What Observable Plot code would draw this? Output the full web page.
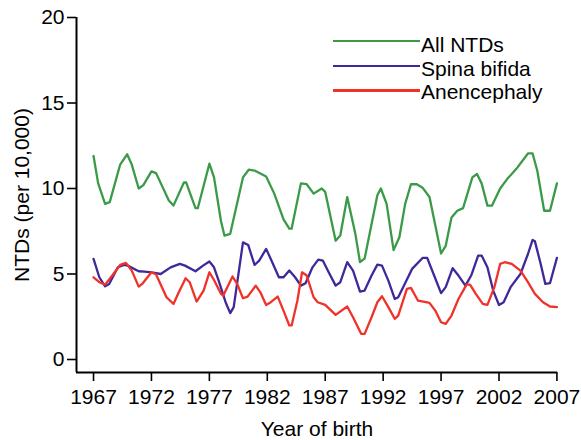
<!DOCTYPE html>
<html><head><meta charset="utf-8">
<script src="https://cdn.jsdelivr.net/npm/d3@7"></script>
<script src="https://cdn.jsdelivr.net/npm/@observablehq/plot@0.6"></script>
<style>
body{margin:0;background:#fff;}
#chart{position:relative;width:581px;height:440px;font-family:"Liberation Sans",Arial,sans-serif;}
.sw{position:absolute;left:333px;width:87px;height:2.4px;}
.lt{position:absolute;left:421px;font-size:21px;line-height:21px;color:#000;white-space:nowrap;}
</style></head><body><div id="chart"></div>
<script>
const seriesNames = ["All NTDs", "Spina bifida", "Anencephaly"];
const seriesColors = ["#3a9a48", "#40289a", "#f0322a"];
const xTicks = [1967, 1972, 1977, 1982, 1987, 1992, 1997, 2002, 2007];
const yTicks = [0, 5, 10, 15, 20];

const allYears = [1967,1967.4,1968,1968.4,1969.3,1969.9,1970.3,1970.9,1971.3,1972,1972.4,1973.5,1973.9,1974.8,1975,1975.8,1976,1977,1977.4,1978,1978.3,1978.8,1979.9,1980.4,1980.9,1981.9,1982.6,1983.4,1983.9,1984.1,1984.9,1985.4,1986,1986.7,1987,1987.9,1988.3,1988.9,1989.6,1990,1990.4,1991.5,1991.8,1992.3,1992.9,1993.4,1993.9,1994.4,1994.9,1995.4,1996,1997,1997.4,1997.9,1998.4,1998.9,1999.7,2000.1,2000.5,2001,2001.4,2002.1,2002.7,2003.5,2004.5,2004.9,2005.3,2005.9,2006.4,2007];
const allValues = [11.9,10.3,9.1,9.2,11.4,12.0,11.4,10.0,10.2,11.0,10.9,9.3,9.0,10.35,10.35,8.85,8.85,11.45,10.65,8.1,7.25,7.35,10.65,11.1,11.05,10.7,9.7,8.2,7.65,7.65,10.3,10.25,9.7,10.0,9.8,6.95,7.25,9.5,7.35,5.7,5.9,9.6,10.0,9.1,6.4,7.15,9.1,10.25,10.25,10.05,9.5,6.2,6.65,8.3,8.7,8.85,10.65,10.85,10.3,9.0,9.0,10.0,10.55,11.15,12.05,12.05,11.05,8.7,8.7,10.3];

const sbYears = [1967,1967.5,1968,1968.35,1969.1,1969.6,1969.95,1970.9,1971.4,1972,1972.8,1973.65,1974.45,1974.9,1975.8,1976.45,1977,1977.4,1977.8,1978.4,1978.8,1979.1,1979.9,1980.35,1980.9,1981.3,1981.9,1982.3,1983,1983.4,1983.9,1984.4,1984.9,1985.3,1985.9,1986.4,1986.8,1987.3,1987.9,1988.3,1988.9,1989.4,1990,1990.4,1991,1991.5,1991.9,1992.45,1993,1993.3,1994,1994.5,1995.4,1995.8,1996.4,1997,1997.4,1998,1998.5,1999.1,1999.6,2000.2,2000.5,2001,2001.5,2002,2002.4,2003,2003.85,2004.5,2004.9,2005.1,2005.6,2006,2006.4,2007];
const sbValues = [5.88,4.81,4.28,4.42,5.39,5.53,5.49,5.16,5.14,5.10,5.0,5.39,5.59,5.49,5.16,5.49,5.73,5.39,4.61,3.35,2.71,3.06,6.85,6.70,5.53,5.78,6.47,5.88,4.81,4.81,5.2,4.81,4.32,4.46,5.39,5.84,5.78,5.10,4.32,4.52,5.69,5.2,3.97,4.03,4.91,5.55,5.49,4.61,3.54,3.64,4.61,5.30,5.94,5.94,4.91,3.88,4.23,5.34,4.91,4.32,4.91,6.08,6.08,5.39,4.03,3.19,3.35,4.23,5.0,6.17,6.99,6.91,5.59,4.42,4.46,5.94];

const anYears = [1967,1967.5,1968,1968.5,1969.3,1969.8,1970.3,1970.9,1971.2,1972,1972.4,1973.3,1973.9,1974.3,1974.95,1975.3,1975.9,1976.5,1977,1977.4,1978,1978.2,1979,1979.4,1979.9,1980.3,1981,1981.4,1981.9,1982.3,1982.9,1983.45,1983.9,1984.1,1984.6,1985,1985.4,1986,1986.35,1987,1987.9,1988.9,1989.4,1990.1,1990.4,1991,1991.5,1991.9,1992.45,1993,1993.3,1994.05,1994.4,1995,1995.7,1996,1996.5,1997,1997.4,1997.9,1998.5,1999.2,1999.5,2000,2000.6,2001,2001.6,2002.1,2002.5,2003.1,2003.85,2004.5,2005.1,2005.8,2006.4,2007];
const anValues = [4.81,4.52,4.38,4.81,5.53,5.65,5.2,4.26,4.42,5.10,4.97,3.64,3.25,3.84,4.75,4.52,3.39,4.03,5.10,4.65,3.84,3.74,4.85,4.42,3.58,3.68,4.32,3.93,3.19,3.35,3.68,2.77,1.99,1.99,3.45,5.10,4.91,3.64,3.35,3.19,2.61,3.10,2.47,1.50,1.50,2.47,3.35,3.70,3.06,2.38,2.57,4.13,4.19,3.45,3.35,3.31,2.86,2.18,2.08,2.57,3.54,4.38,4.38,3.84,3.25,3.19,4.23,5.59,5.69,5.59,5.20,4.52,3.84,3.35,3.10,3.06];

const seriesYears = [allYears, sbYears, anYears];
const seriesValues = [allValues, sbValues, anValues];
const data = seriesNames.flatMap((name, i) =>
  seriesYears[i].map((year, j) => ({series: name, year, value: seriesValues[i][j]})));

const xDomain = [1965.53, 2007.05];
const yDomain = [-0.76, 20];

const chart = Plot.plot({
  width: 581, height: 440,
  marginLeft: 76, marginRight: 24, marginTop: 17, marginBottom: 68,
  style: {fontFamily: "'Liberation Sans', Arial, sans-serif", fontSize: "21px", color: "#000", background: "#fff"},
  x: {domain: xDomain},
  y: {domain: yDomain},
  color: {domain: seriesNames, range: seriesColors},
  marks: [
    Plot.axisX({ticks: xTicks, tickSize: 9, tickPadding: 8, tickFormat: d => String(d), strokeWidth: 1.6,
      label: "Year of birth", labelAnchor: "center", labelOffset: 63, labelArrow: "none"}),
    Plot.axisY({ticks: yTicks, tickSize: 9, tickPadding: 3, strokeWidth: 1.6,
      label: "NTDs (per 10,000)", labelAnchor: "center", labelOffset: 62, labelArrow: "none"}),
    Plot.ruleX([xDomain[0]], {stroke: "#000", strokeWidth: 2}),
    Plot.ruleY([yDomain[0]], {stroke: "#000", strokeWidth: 2}),
    Plot.line(data, {x: "year", y: "value", z: "series", stroke: "series", strokeWidth: 2.3, strokeLinejoin: "round"})
  ]
});
const root = document.getElementById("chart");
root.appendChild(chart);

const swatchTops = [40.7, 66, 90.5];
const textTops = [34, 57.7, 81.2];
seriesNames.forEach((name, i) => {
  const sw = document.createElement("div");
  sw.className = "sw";
  sw.style.top = (swatchTops[i] - 1.2) + "px";
  sw.style.background = seriesColors[i];
  root.appendChild(sw);
  const t = document.createElement("div");
  t.className = "lt";
  t.style.top = textTops[i] + "px";
  t.textContent = name;
  root.appendChild(t);
});
</script></body></html>
